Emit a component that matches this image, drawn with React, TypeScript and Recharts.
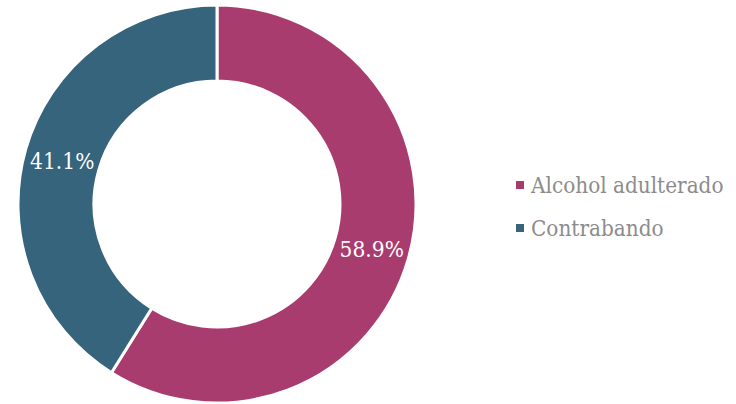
import React from "react";
import { PieChart, Pie, Cell, Legend } from "recharts";

const categories = ["Alcohol adulterado", "Contrabando"];
const values = [58.9, 41.1];
const colors = ["#A83C6E", "#35647C"];

const data = categories.map((name, i) => ({ name, value: values[i] }));

const FONT = "'DejaVu Serif Condensed', 'DejaVu Serif', serif";
const RAD = Math.PI / 180;

const renderLabel = (props: any) => {
  const { cx, cy, midAngle, innerRadius, outerRadius, value } = props;
  const r = (innerRadius + outerRadius) / 2;
  const x = cx + r * Math.cos(-midAngle * RAD);
  const y = cy + r * Math.sin(-midAngle * RAD);
  return (
    <text
      x={x}
      y={y + 1}
      fill="#ffffff"
      textAnchor="middle"
      dominantBaseline="central"
      fontFamily={FONT}
      fontSize={22.5}
    >
      {`${value.toFixed(1)}%`}
    </text>
  );
};

const renderLegend = () => (
  <div style={{ fontFamily: FONT, fontSize: 22.3, color: "#8C8C8C" }}>
    {categories.map((c, i) => (
      <div key={c} style={{ display: "flex", alignItems: "center", height: 43 }}>
        <span
          style={{
            display: "inline-block",
            width: 8,
            height: 8,
            background: colors[i],
            marginRight: 7,
          }}
        />
        <span>{c}</span>
      </div>
    ))}
  </div>
);

export default function App() {
  return (
    <div style={{ position: "absolute", left: 0, top: 0, width: 736, height: 404, background: "#fff" }}>
      <PieChart width={736} height={404} margin={{ top: 0, right: 0, bottom: 0, left: 0 }}>
        <Pie
          data={data}
          dataKey="value"
          nameKey="name"
          cx={217}
          cy={204}
          innerRadius={123}
          outerRadius={199}
          startAngle={90}
          endAngle={-270}
          stroke="#ffffff"
          strokeWidth={3}
          label={renderLabel}
          labelLine={false}
          isAnimationActive={false}
        >
          {data.map((d, i) => (
            <Cell key={d.name} fill={colors[i]} />
          ))}
        </Pie>
        <Legend
          content={renderLegend}
          layout="vertical"
          wrapperStyle={{ position: "absolute", left: 516, top: 163, width: 220 }}
        />
      </PieChart>
    </div>
  );
}
